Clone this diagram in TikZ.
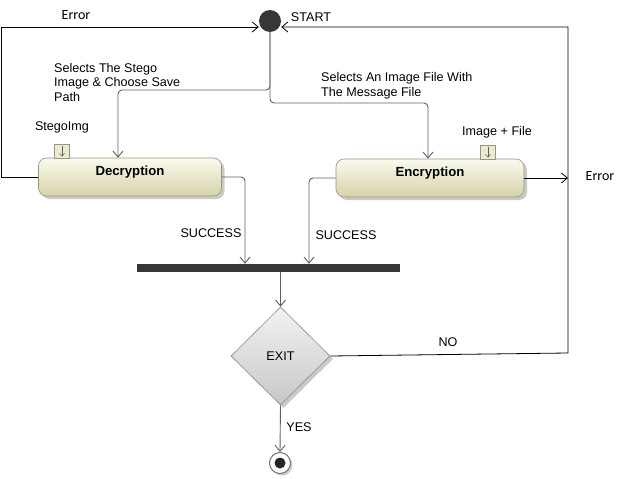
\documentclass[tikz,border=0pt]{standalone}
\usepackage{fontspec}
\setmainfont{Liberation Sans}
\newfontfamily\errfont{Carlito}
\usetikzlibrary{arrows.meta,shapes.geometric,shadows,calc}
\definecolor{acttop}{RGB}{250,250,238}
\definecolor{actbot}{RGB}{214,211,168}
\definecolor{actborder}{RGB}{150,150,125}
\definecolor{flowgray}{RGB}{95,95,95}
\definecolor{bargray}{RGB}{55,55,55}
\definecolor{pinfill}{RGB}{236,234,208}
\begin{document}
\begin{tikzpicture}[x=1pt,y=-1pt,
  every node/.style={font=\fontsize{12.6}{14.5}\selectfont},
  lbl/.style={inner sep=0pt},
  errlbl/.style={inner sep=0pt,font=\errfont\fontsize{14}{16}\selectfont},
  act/.style={draw=actborder, line width=0.6pt, rounded corners=8pt,
    top color=acttop, bottom color=actbot, minimum height=38pt,
    inner sep=0pt, text depth=13pt,
    drop shadow={shadow xshift=3pt,shadow yshift=-3pt,fill=black!35,opacity=0.6},
    font=\fontsize{13.2}{15}\selectfont\bfseries},
  pinbox/.style={draw=actborder, fill=pinfill, minimum width=15pt, minimum height=14pt, inner sep=0pt},
  pinarrow/.style={draw=flowgray, line width=0.5pt, -{Straight Barb[length=3pt,width=5pt]}},
  flow/.style={draw=flowgray, line width=0.9pt, rounded corners=4pt, -{Straight Barb[length=6pt,width=10pt]}},
  errl/.style={draw=black, line width=0.8pt, -{Straight Barb[length=6pt,width=10pt]}},
]
\useasboundingbox (0,0) rectangle (622,479);

% nodes
\node[circle, fill=bargray, minimum size=22pt, inner sep=0pt] (start) at (270,21) {};
\node[lbl] (startlbl) at (311,17) {START};

\node[act, minimum width=183pt] (dec) at (130,177) {Decryption};
\node[act, minimum width=188pt] (enc) at (430,178) {Encryption};

\node[pinbox] (dpin) at (62,151) {};
\node[pinbox] (epin) at (488,152) {};
\draw[pinarrow] ($(dpin.north)+(0,2)$) -- ($(dpin.south)+(0,-1.5)$);
\draw[pinarrow] ($(epin.north)+(0,2)$) -- ($(epin.south)+(0,-1.5)$);
\node[lbl] (dpinlbl) at (62,127) {StegoImg};
\node[lbl] (epinlbl) at (497,132) {Image + File};

\node[lbl, anchor=west, align=left] (declbl) at (54,82) {Selects The Stego\\Image \& Choose Save\\Path};
\node[lbl, anchor=west, align=left] (enclbl) at (321,85.5) {Selects An Image File With\\The Message File};

\node[fill=bargray, minimum width=263pt, minimum height=8pt, inner sep=0pt] (bar) at (268.5,268) {};

\node[diamond, draw=black!45, line width=0.6pt, minimum width=99pt, minimum height=98pt, inner sep=0pt,
  top color=black!5, bottom color=black!22,
  drop shadow={shadow xshift=3pt,shadow yshift=-3pt,fill=black!35,opacity=0.6}] (dia) at (280.5,356) {EXIT};

\node[circle, draw=black!55, line width=1pt, fill=white, minimum size=21pt, inner sep=0pt,
  drop shadow={shadow xshift=2pt,shadow yshift=-2pt,fill=black!35,opacity=0.6},
  path picture={\fill[black!85] (path picture bounding box.center) circle (5.5pt);}] (end) at (280,463) {};

\node[lbl] (s1) at (211,233) {SUCCESS};
\node[lbl] (s2) at (346,235) {SUCCESS};
\node[lbl] (nolbl) at (448,342) {NO};
\node[lbl] (yeslbl) at (299,427) {YES};
\node[errlbl] (err1) at (76,15) {Error};
\node[errlbl] (err2) at (600,176) {Error};

% helper coordinates
\coordinate (d1) at (118,90);
\coordinate (e1) at (428,103);
\coordinate (b1) at (245,268);
\coordinate (b2) at (309,268);
\coordinate (tl) at (1,27);
\coordinate (tr) at (568,27);
\coordinate (n1) at (568,353);

% flows
\draw[flow] (start.south) |- (d1) -- (d1 |- dec.north);
\draw[flow] (start.south) |- (e1) -- (e1 |- enc.north);
\draw[flow] (dec.east) -| (b1 |- bar.north);
\draw[flow] (enc.west) -| (b2 |- bar.north);
\draw[flow] (dia.north |- bar.south) -- (dia.north);
\draw[flow] (dia.south) -- (end.north);

% error / no lines
\draw[errl] (dec.west) -| (tl) -- (tl -| start.west);
\draw[errl] (dia.east) -- (n1) -- (tr) -- (tr -| start.east);
\draw[errl] (enc.east) -- (enc.east -| n1);
\end{tikzpicture}
\end{document}
